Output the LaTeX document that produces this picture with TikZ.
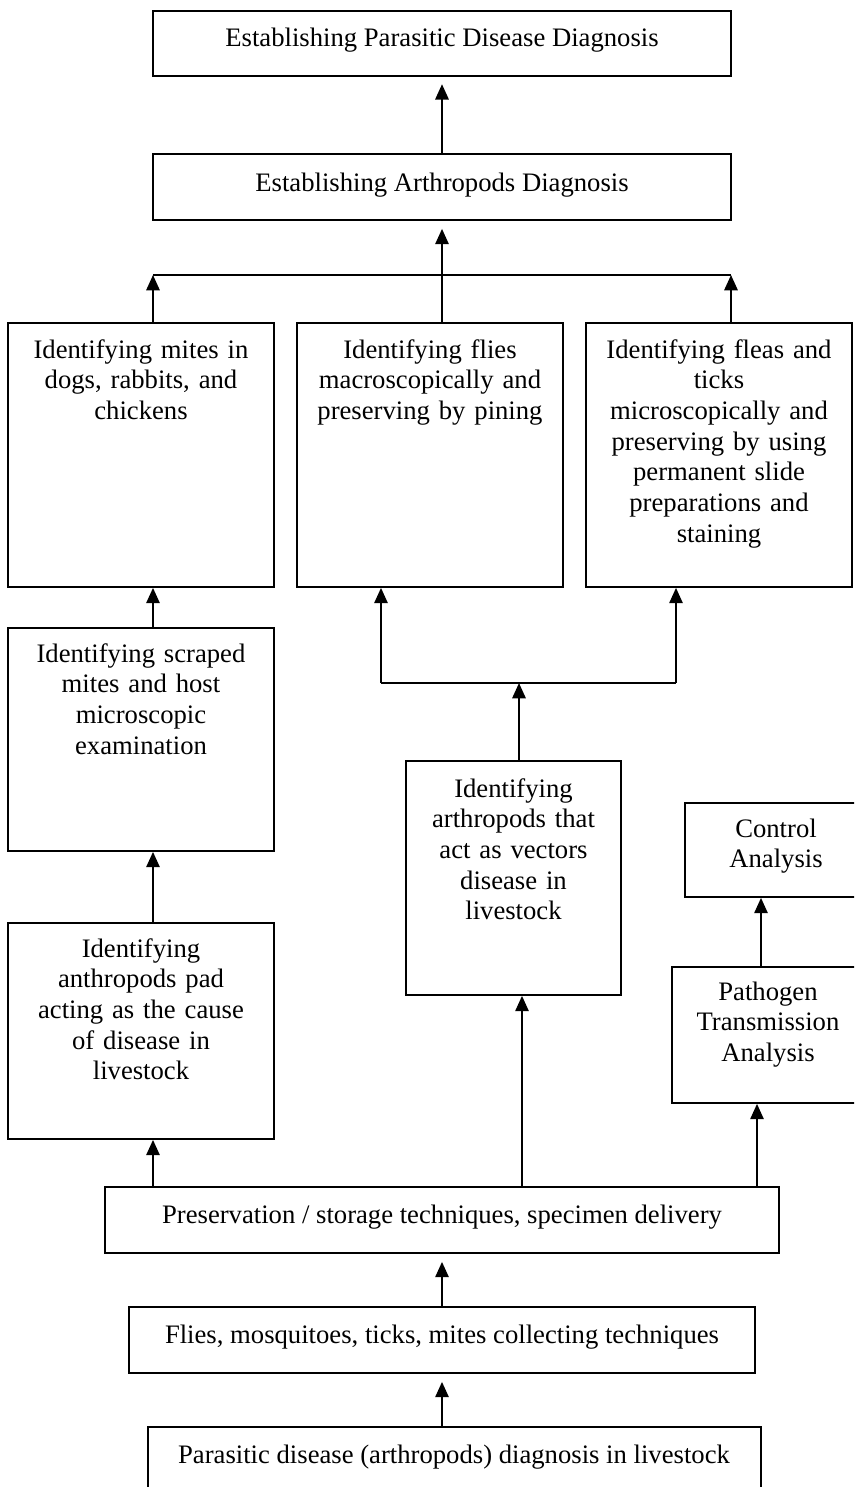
\documentclass[tikz,border=0pt]{standalone}
\usepackage{fontspec}
\setmainfont{Liberation Serif}
\usetikzlibrary{fit,arrows.meta}
\begin{document}
\begin{tikzpicture}[x=0.75pt,y=-0.75pt,
  box/.style={draw, line width=1.3pt, inner sep=0pt, rectangle},
  txt/.style={font=\fontsize{20}{23}\selectfont, align=center, text width=260pt, inner sep=0pt, anchor=base},
  txtone/.style={font=\fontsize{20}{23}\selectfont, inner sep=0pt, anchor=base},
  arr/.style={line width=1.5pt, -{Triangle[length=11.5pt,width=10pt]}},
  ln/.style={line width=1.5pt}
]
\clip (0,0) rectangle (854,1487);
\fill[white] (0,0) rectangle (854,1487);
% boxes
\node[box, fit={(153,11) (731,76)}] (top) {};
\node[box, fit={(153,154) (731,220)}] (arthd) {};
\node[box, fit={(8,323) (274,587)}] (mites) {};
\node[box, fit={(297,323) (563,587)}] (macro) {};
\node[box, fit={(586,323) (852,587)}] (fleas) {};
\node[box, fit={(8,628) (274,851)}] (scraped) {};
\node[box, fit={(406,761) (621,995)}] (vector) {};
\node[box, fit={(685,803) (867,897)}] (control) {};
\node[box, fit={(8,923) (274,1139)}] (anthro) {};
\node[box, fit={(672,967) (864,1103)}] (pathogen) {};
\node[box, fit={(105,1187) (779,1253)}] (pres) {};
\node[box, fit={(129,1307) (755,1373)}] (collect) {};
\node[box, fit={(148,1427) (761,1500)}] (bottom) {};
% texts
\node[txtone] (topt) at (442,47) {Establishing Parasitic Disease Diagnosis};
\node[txtone] (arthdt) at (442,192) {Establishing Arthropods Diagnosis};
\node[txt] (mitest) at (141,358) {Identifying mites in\\dogs, rabbits, and\\chickens};
\node[txt] (macrot) at (430,358) {Identifying flies\\macroscopically and\\preserving by pining};
\node[txt] (fleast) at (719,358) {Identifying fleas and\\ticks\\microscopically and\\preserving by using\\permanent slide\\preparations and\\staining};
\node[txt] (scrapedt) at (141,662) {Identifying scraped\\mites and host\\microscopic\\examination};
\node[txt] (vectort) at (513.5,797) {Identifying\\arthropods that\\act as vectors\\disease in\\livestock};
\node[txt] (controlt) at (776,837) {Control\\Analysis};
\node[txt] (anthrot) at (141,957) {Identifying\\anthropods pad\\acting as the cause\\of disease in\\livestock};
\node[txt] (pathogent) at (768,1000) {Pathogen\\Transmission\\Analysis};
\node[txtone] (prest) at (442,1223) {Preservation / storage techniques, specimen delivery};
\node[txtone] (collectt) at (442,1343) {Flies, mosquitoes, ticks, mites collecting techniques};
\node[txtone] (bottomt) at (454,1463) {Parasitic disease (arthropods) diagnosis in livestock};
% connectors
\coordinate (busL) at (153,275);
\coordinate (busC) at (442,275);
\coordinate (busR) at (731,275);
\draw[ln] (busL) -- (busR);
\draw[arr] (busL |- mites.north) -- (busL);
\draw[arr] (busR |- fleas.north) -- (busR);
\draw[arr, shorten >=6pt] (busC |- macro.north) -- (arthd.south);
\draw[arr, shorten >=5.5pt] (arthd.north) -- (top.south);
\draw[arr] (busL |- scraped.north) -- (busL |- mites.south);
\coordinate (bus2L) at (381,683);
\coordinate (bus2C) at (519,683);
\coordinate (bus2R) at (676,683);
\draw[ln] (bus2L) -- (bus2R);
\draw[arr] (bus2L) -- (bus2L |- macro.south);
\draw[arr] (bus2R) -- (bus2R |- fleas.south);
\draw[arr] (bus2C |- vector.north) -- (bus2C);
\draw[arr] (busL |- anthro.north) -- (busL |- scraped.south);
\draw[arr] (busL |- pres.north) -- (busL |- anthro.south);
\coordinate (pV) at (522,1187);
\coordinate (pP) at (757,1187);
\coordinate (pC) at (761,967);
\draw[arr] (pV |- pres.north) -- (pV |- vector.south);
\draw[arr] (pP |- pres.north) -- (pP |- pathogen.south);
\draw[arr] (pC |- pathogen.north) -- (pC |- control.south);
\draw[arr, shorten >=6pt] (collect.north) -- (pres.south);
\draw[arr, shorten >=6pt] (busC |- bottom.north) -- (busC |- collect.south);
\end{tikzpicture}
\end{document}
